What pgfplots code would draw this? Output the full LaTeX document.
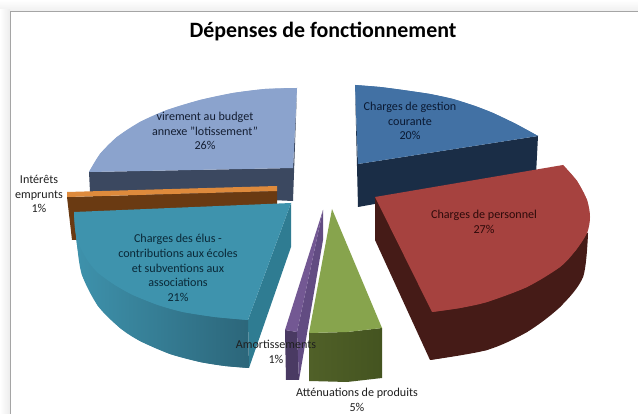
\documentclass[border=0pt]{standalone}
\usepackage{fontspec}
\setmainfont{Carlito}
\usepackage{pgfplots}
\pgfplotsset{compat=1.18}
\definecolor{bgt}{HTML}{ECECEC}
\definecolor{bgl}{HTML}{F6F6F6}
\definecolor{lavtop}{RGB}{139,163,205}
\definecolor{lavside}{RGB}{59,72,96}
\definecolor{blutop}{RGB}{66,113,164}
\definecolor{bluside}{RGB}{26,45,70}
\definecolor{tealtop}{RGB}{62,147,173}
\definecolor{tealedge}{RGB}{47,124,146}
\definecolor{tealA}{RGB}{62,146,172}
\definecolor{tealB}{RGB}{44,102,122}
\definecolor{redtop}{RGB}{166,66,63}
\definecolor{redside}{RGB}{69,27,23}
\begin{document}
\begin{tikzpicture}
\begin{axis}[scale only axis,width=638pt,height=414pt,xmin=0,xmax=638,ymin=0,ymax=414,y dir=reverse,hide axis,clip=true]
% backdrop
\addplot[draw=none,bottom color=bgt,top color=white] coordinates {(0,0)(638,0)(638,14)(0,14)} --cycle;
\addplot[draw=none,left color=white,right color=bgt] coordinates {(0,10)(10,10)(10,414)(0,414)} --cycle;
\addplot[draw={rgb,255:red,165;green,165;blue,165},line width=0.9pt,fill=white] coordinates {(10.5,414.5)(10.5,11.3)(638.5,11.3)(638.5,414.5)};
% lavender slice
\addplot[draw=none,fill=lavside] coordinates {(89,172)(293,168)(297,88)(293,201)(90,192)} --cycle;
\addplot[draw=none,fill=lavtop] coordinates {(297,88)(265,89)(233,93)(200,100)(167,110)(140,122)(117,137)(100,154)(89,172)(293,168)} --cycle;
\addplot[draw=none,fill=lavtop,smooth] coordinates {(297,88)(265,89)(233,93)(200,100)(167,110)(140,122)(117,137)(100,154)(89,172)};
% blue slice
\addplot[draw=none,fill=bluside] coordinates {(355,85)(358,164)(538,136)(536,175)(358,207)} --cycle;
\addplot[draw=none,fill=blutop] coordinates {(355,85)(380,87)(403,90)(430,94)(453,99)(475,106)(493,113)(516,124)(538,136)(358,164)} --cycle;
\addplot[draw=none,fill=blutop,smooth] coordinates {(355,85)(380,87)(403,90)(430,94)(453,99)(475,106)(493,113)(516,124)(538,136)};
% orange / brown slice
\addplot[draw=none,fill={rgb,255:red,106;green,58;blue,18}] coordinates {(67,197)(277,191)(277,205)(78,215)(77,240)(72,240)} --cycle;
\addplot[draw=none,fill={rgb,255:red,222;green,138;blue,60}] coordinates {(67,192)(277,186)(277,191)(67,197)} --cycle;
% teal slice
\addplot[draw=none,fill=tealedge] coordinates {(291,203)(291,247)(249,368)(248,320)} --cycle;
\addplot[draw=none,left color=tealA,right color=tealB] coordinates {(75,225)(77,245)(82,275)(98,306)(120,328)(140,341)(170,354)(200,362)(225,366)(249,368)(248,320)} --cycle;
\addplot[draw=none,left color=tealA,right color=tealB,smooth] coordinates {(75,225)(77,245)(82,275)(98,306)(120,328)(140,341)(170,354)(200,362)(225,366)(249,368)};
\addplot[draw=none,fill=tealtop] coordinates {(74,212)(75,228)(78,242)(86,258)(97,272)(115,285)(133,295)(158,305)(183,312)(215,317)(248,320)(291,203)} --cycle;
\addplot[draw=none,fill=tealtop,smooth] coordinates {(74,212)(75,228)(78,242)(86,258)(97,272)(115,285)(133,295)(158,305)(183,312)(215,317)(248,320)};
% purple slice
\addplot[draw=none,fill={rgb,255:red,74;green,58;blue,99}] coordinates {(285,330)(297,332)(299,380)(286,380)} --cycle;
\addplot[draw=none,fill={rgb,255:red,98;green,76;blue,130}] coordinates {(323,210)(323,240)(299,380)(297,332)} --cycle;
\addplot[draw=none,fill={rgb,255:red,115;green,88;blue,147}] coordinates {(323,210)(297,332)(285,330)} --cycle;
% green slice
\addplot[draw=none,left color={rgb,255:red,80;green,96;blue,40},right color={rgb,255:red,68;green,84;blue,32}] coordinates {(309,333)(347,332)(382,328)(382,378)(347,382)(309,381)} --cycle;
\addplot[draw=none,fill={rgb,255:red,135;green,164;blue,77}] coordinates {(332,209)(382,328)(347,332)(309,333)} --cycle;
% red slice
\addplot[draw=none,fill=redside] coordinates {(375,197)(588,233)(583,277)(560,307)(527,332)(487,350)(430,360)(375,240)} --cycle;
\addplot[draw=none,fill=redside,smooth] coordinates {(588,233)(583,277)(560,307)(527,332)(487,350)(430,360)};
\addplot[draw=none,fill=redtop] coordinates {(563,165)(577,181)(587,200)(590,217)(587,233)(576,250)(560,267)(527,287)(487,302)(460,308)(432,312)(375,197)} --cycle;
\addplot[draw=none,fill=redtop,smooth] coordinates {(563,165)(577,181)(587,200)(590,217)(587,233)(576,250)(560,267)(527,287)(487,302)(460,308)(432,312)};
% labels
\tikzset{lab/.style={align=center,font=\fontsize{12.1}{14.8}\selectfont,text=black!88,inner sep=0pt}}
\node[font=\bfseries\fontsize{21.9}{26}\selectfont,text=black,inner sep=0pt] at (axis cs:323,32) {Dépenses de fonctionnement};
\node[lab,text={rgb,255:red,20;green,30;blue,50}] at (axis cs:205,131) {virement au budget\\annexe "lotissement"\\26\%};
\node[lab,text={rgb,255:red,10;green,25;blue,50}] at (axis cs:410,121) {Charges de gestion\\courante\\20\%};
\node[lab,text={rgb,255:red,45;green,10;blue,10}] at (axis cs:484,222) {Charges de personnel\\27\%};
\node[lab] at (axis cs:39,194) {Intérêts\\emprunts\\1\%};
\node[lab,text={rgb,255:red,10;green,40;blue,55}] at (axis cs:178,268) {Charges des élus -\\contributions aux écoles\\et subventions aux\\associations\\21\%};
\node[lab] at (axis cs:276,352) {Amortissements\\1\%};
\node[lab] at (axis cs:357,400) {Atténuations de produits\\5\%};
\end{axis}
\end{tikzpicture}
\end{document}
